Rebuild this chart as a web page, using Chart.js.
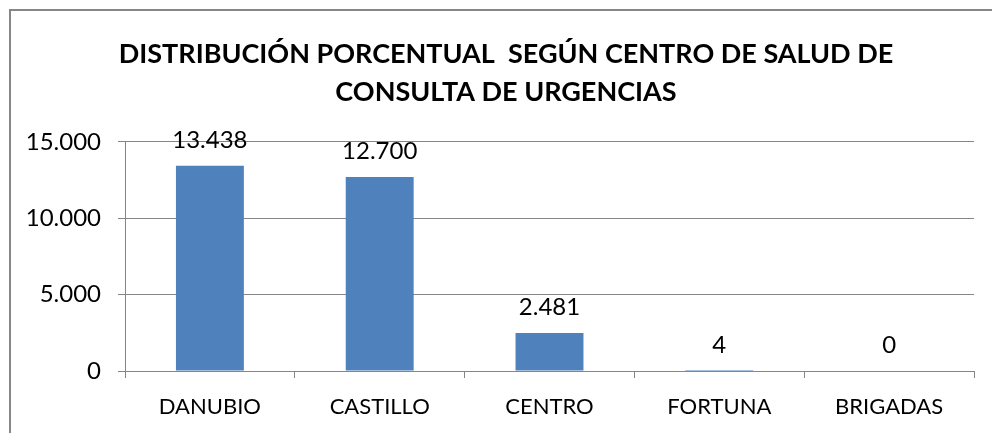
<!DOCTYPE html>
<html>
<head>
<meta charset="utf-8">
<script src="https://cdn.jsdelivr.net/npm/chart.js@4/dist/chart.umd.min.js"></script>
<style>
  body { margin: 0; background: #fff; }
  #wrap { position: relative; width: 992px; height: 433px; overflow: hidden; }
  #frame { position: absolute; left: 9px; top: 9px; width: 1100px; height: 600px;
           border-left: 2px solid #868686; border-top: 2px solid #868686; }
  canvas { position: absolute; left: 0; top: 0; }
</style>
</head>
<body>
<div id="wrap">
  <div id="frame"></div>
  <canvas id="myChart" width="992" height="433"></canvas>
</div>
<script>
var titulo = ["DISTRIBUCIÓN PORCENTUAL  SEGÚN CENTRO DE SALUD DE", "CONSULTA DE URGENCIAS"];
var centros = ["DANUBIO", "CASTILLO", "CENTRO", "FORTUNA", "BRIGADAS"];
var consultas = [13438, 12700, 2481, 4, 0];
var ejeY = [0, 5000, 10000, 15000];

var gris = "#868686";
var fuente = "Lato, 'Open Sans', sans-serif";

function miles(v) {
  return String(v).replace(/\B(?=(\d{3})+(?!\d))/g, ".");
}

// etiquetas encima de cada barra
var etiquetas = {
  id: "etiquetas",
  afterLayout: function(chart) {
    // el titulo va un poco a la derecha, como en el original
    if (chart.titleBlock) {
      chart.titleBlock.left += 14;
      chart.titleBlock.right += 14;
    }
  },
  afterDatasetsDraw: function(chart) {
    var ctx = chart.ctx;
    var meta = chart.getDatasetMeta(0);
    ctx.save();
    ctx.font = "24px " + fuente;
    ctx.fillStyle = "#000";
    ctx.textAlign = "center";
    ctx.textBaseline = "middle";
    meta.data.forEach(function(bar, i) {
      ctx.fillText(miles(consultas[i]), bar.x, bar.y - 26);
    });
    ctx.restore();
  }
};

var ctx = document.getElementById("myChart").getContext("2d");
var myChart = new Chart(ctx, {
  type: "bar",
  data: {
    labels: centros,
    datasets: [{
      data: consultas,
      backgroundColor: "#4F81BD",
      categoryPercentage: 1,
      barPercentage: 0.4
    }]
  },
  plugins: [etiquetas],
  options: {
    responsive: false,
    animation: false,
    layout: { padding: { left: 10, right: 18, top: 0, bottom: 0 } },
    plugins: {
      legend: { display: false },
      tooltip: { enabled: false },
      title: {
        display: true,
        text: titulo,
        color: "#000",
        font: { family: fuente, size: 27, weight: "bold", lineHeight: 1.407 },
        padding: { top: 35, bottom: 31 }
      }
    },
    scales: {
      x: {
        grid: { drawOnChartArea: false, drawTicks: true, tickLength: 7, color: gris, offset: true },
        border: { color: gris },
        ticks: { color: "#000", font: { family: fuente, size: 22 }, padding: 16 },
        afterFit: function(s) { s.height = 62; }
      },
      y: {
        min: 0,
        max: 15000,
        afterBuildTicks: function(s) { s.ticks = ejeY.map(function(v) { return { value: v }; }); },
        grid: { color: gris, tickLength: 7 },
        border: { color: gris },
        ticks: { color: "#000", font: { family: fuente, size: 24 }, padding: 17,
                 callback: function(v) { return miles(v); } },
        afterFit: function(s) { s.width = 115; }
      }
    }
  }
});
</script>
</body>
</html>
